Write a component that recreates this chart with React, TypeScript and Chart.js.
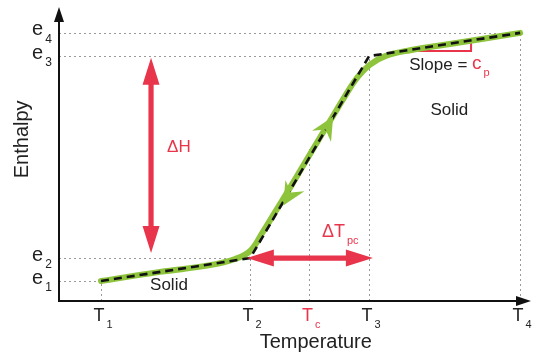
import React, { useEffect, useRef } from "react";
import { Chart, registerables } from "chart.js";

Chart.register(...registerables);

// Temperature ticks: T1, T2, Tc, T3, T4
const tempTicks = [0.89, 4.05, 5.3, 6.57, 9.77];
const tempMain = ["T", "T", "T", "T", "T"];
const tempSubs = ["1", "2", "c", "3", "4"];
// Enthalpy ticks: e1, e2, e3, e4
const enthTicks = [0.68, 1.46, 8.33, 9.12];
const enthMain = ["e", "e", "e", "e"];
const enthSubs = ["1", "2", "3", "4"];

// Smooth (real) enthalpy curve
const curveT = [0.89, 2.14, 3.2, 3.73, 4.05, 4.32, 4.58, 4.89, 5.32, 5.74, 6.06, 6.33, 6.59, 6.91, 7.44, 8.28, 9.77];
const curveH = [0.68, 0.99, 1.22, 1.43, 1.7, 2.35, 3.03, 3.84, 5.0, 6.12, 6.97, 7.62, 8.04, 8.33, 8.53, 8.74, 9.12];

// Piecewise-linear approximation (dashed)
const pieceT = [0.89, 4.05, 6.57, 9.77];
const pieceH = [0.68, 1.46, 8.33, 9.12];

// Arrowheads on the curve
const flowT = [5.68, 4.88];
const flowH = [5.92, 3.6];
const flowDir = [1, -1];

const RED = "#e8354b";
const GREEN = "#8dc43c";
const FONT = "'Liberation Sans', Arial, Helvetica, sans-serif";

function drawSubText(ctx: CanvasRenderingContext2D, main: string, sub: string, x: number, y: number, size: number, color: string, align: "center" | "left") {
  ctx.save();
  ctx.fillStyle = color;
  ctx.textBaseline = "middle";
  ctx.textAlign = "left";
  ctx.font = `${size}px ${FONT}`;
  const w1 = ctx.measureText(main).width;
  const subSize = Math.round(size * 0.6);
  ctx.font = `${subSize}px ${FONT}`;
  const w2 = ctx.measureText(sub).width;
  const total = w1 + 2 + w2;
  const x0 = align === "center" ? x - total / 2 : x;
  ctx.font = `${size}px ${FONT}`;
  ctx.fillText(main, x0, y);
  ctx.font = `${subSize}px ${FONT}`;
  ctx.fillText(sub, x0 + w1 + 2, y + size * 0.5);
  ctx.restore();
}

function doubleArrow(ctx: CanvasRenderingContext2D, x1: number, y1: number, x2: number, y2: number) {
  const dx = x2 - x1, dy = y2 - y1;
  const len = Math.hypot(dx, dy);
  const ux = dx / len, uy = dy / len;
  const nx = -uy, ny = ux;
  const hl = 27, hw = 8.5, sw = 2.6;
  ctx.save();
  ctx.fillStyle = RED;
  ctx.beginPath();
  ctx.moveTo(x1, y1);
  ctx.lineTo(x1 + ux * hl + nx * hw, y1 + uy * hl + ny * hw);
  ctx.lineTo(x1 + ux * hl + nx * sw, y1 + uy * hl + ny * sw);
  ctx.lineTo(x2 - ux * hl + nx * sw, y2 - uy * hl + ny * sw);
  ctx.lineTo(x2 - ux * hl + nx * hw, y2 - uy * hl + ny * hw);
  ctx.lineTo(x2, y2);
  ctx.lineTo(x2 - ux * hl - nx * hw, y2 - uy * hl - ny * hw);
  ctx.lineTo(x2 - ux * hl - nx * sw, y2 - uy * hl - ny * sw);
  ctx.lineTo(x1 + ux * hl - nx * sw, y1 + uy * hl - ny * sw);
  ctx.lineTo(x1 + ux * hl - nx * hw, y1 + uy * hl - ny * hw);
  ctx.closePath();
  ctx.fill();
  ctx.restore();
}

const decorPlugin = {
  id: "decor",
  beforeDatasetsDraw(chart: any) {
    const { ctx, chartArea, scales } = chart;
    const xs = scales.x, ys = scales.y;
    const px = (v: number) => xs.getPixelForValue(v);
    const py = (v: number) => ys.getPixelForValue(v);
    ctx.save();
    ctx.strokeStyle = "#9a9a9a";
    ctx.lineWidth = 1;
    ctx.setLineDash([2, 3]);
    const hEnds = [tempTicks[0], tempTicks[1], tempTicks[3], tempTicks[4]];
    enthTicks.forEach((e, i) => {
      ctx.beginPath();
      ctx.moveTo(chartArea.left, Math.round(py(e)) + 0.5);
      ctx.lineTo(px(hEnds[i]), Math.round(py(e)) + 0.5);
      ctx.stroke();
    });
    const vTops = [enthTicks[0], enthTicks[1], 5.2, enthTicks[2], enthTicks[3]];
    tempTicks.forEach((t, i) => {
      ctx.beginPath();
      ctx.moveTo(Math.round(px(t)) + 0.5, chartArea.bottom);
      ctx.lineTo(Math.round(px(t)) + 0.5, py(vTops[i]));
      ctx.stroke();
    });
    ctx.setLineDash([]);
    const sx1 = 7.61, sx2 = 8.73, sy = 8.5;
    const lineAt = (t: number) => pieceH[2] + (pieceH[3] - pieceH[2]) * (t - pieceT[2]) / (pieceT[3] - pieceT[2]);
    ctx.strokeStyle = RED;
    ctx.lineWidth = 2;
    ctx.beginPath();
    ctx.moveTo(px(sx1), py(sy));
    ctx.lineTo(px(sx2), py(sy));
    ctx.lineTo(px(sx2), py(lineAt(sx2)));
    ctx.stroke();
    ctx.restore();
  },
  afterDatasetsDraw(chart: any) {
    const { ctx, chartArea, scales } = chart;
    const xs = scales.x, ys = scales.y;
    const px = (v: number) => xs.getPixelForValue(v);
    const py = (v: number) => ys.getPixelForValue(v);
    ctx.save();
    const ax = px(pieceT[2]) - px(pieceT[1]);
    const ay = py(pieceH[2]) - py(pieceH[1]);
    const al = Math.hypot(ax, ay);
    flowT.forEach((t, i) => {
      const ux = (ax / al) * flowDir[i], uy = (ay / al) * flowDir[i];
      const nx = -uy, ny = ux;
      const cx = px(t), cy = py(flowH[i]);
      ctx.fillStyle = GREEN;
      ctx.beginPath();
      ctx.moveTo(cx + ux * 12, cy + uy * 12);
      ctx.lineTo(cx - ux * 11 + nx * 11, cy - uy * 11 + ny * 11);
      ctx.lineTo(cx - ux * 3, cy - uy * 3);
      ctx.lineTo(cx - ux * 11 - nx * 11, cy - uy * 11 - ny * 11);
      ctx.closePath();
      ctx.fill();
    });
    ctx.strokeStyle = "#111";
    ctx.fillStyle = "#111";
    ctx.lineWidth = 2;
    ctx.beginPath();
    ctx.moveTo(chartArea.left, chartArea.bottom);
    ctx.lineTo(chartArea.left, chartArea.top + 10);
    ctx.moveTo(chartArea.left - 1, chartArea.bottom);
    ctx.lineTo(chartArea.right - 10, chartArea.bottom);
    ctx.stroke();
    ctx.beginPath();
    ctx.moveTo(chartArea.left, chartArea.top);
    ctx.lineTo(chartArea.left - 5, chartArea.top + 15);
    ctx.lineTo(chartArea.left + 5, chartArea.top + 15);
    ctx.closePath();
    ctx.fill();
    ctx.beginPath();
    ctx.moveTo(chartArea.right, chartArea.bottom);
    ctx.lineTo(chartArea.right - 15, chartArea.bottom - 5);
    ctx.lineTo(chartArea.right - 15, chartArea.bottom + 5);
    ctx.closePath();
    ctx.fill();
    doubleArrow(ctx, px(1.95), py(1.63), px(1.95), py(8.27));
    doubleArrow(ctx, px(3.98), py(enthTicks[1]), px(6.65), py(enthTicks[1]));
    tempTicks.forEach((t, i) => {
      drawSubText(ctx, tempMain[i], tempSubs[i], px(t) + 2, chartArea.bottom + 15, 18, tempSubs[i] === "c" ? RED : "#222", "center");
    });
    enthTicks.forEach((e, i) => {
      drawSubText(ctx, enthMain[i], enthSubs[i], chartArea.left - 17, py(e) - 3, 20, "#222", "center");
    });
    ctx.fillStyle = "#222";
    ctx.font = `20px ${FONT}`;
    ctx.textAlign = "center";
    ctx.textBaseline = "middle";
    ctx.fillText("Temperature", px(5.44), chartArea.bottom + 41);
    ctx.save();
    ctx.translate(chartArea.left - 37, py(5.5));
    ctx.rotate(-Math.PI / 2);
    ctx.fillText("Enthalpy", 0, 0);
    ctx.restore();
    ctx.font = `17px ${FONT}`;
    ctx.fillText("Solid", px(2.33), py(0.54));
    ctx.fillText("Solid", px(8.27), py(6.5));
    ctx.textAlign = "left";
    ctx.fillText("Slope = ", px(7.42), py(8.03));
    const sw = ctx.measureText("Slope = ").width;
    drawSubText(ctx, "c", "p", px(7.42) + sw, py(8.03) - 1, 19, RED, "left");
    ctx.fillStyle = RED;
    ctx.font = `17px ${FONT}`;
    ctx.textAlign = "center";
    ctx.fillText("ΔH", px(2.54), py(5.24));
    drawSubText(ctx, "ΔT", "pc", px(5.57), py(2.35), 18, RED, "left");
    ctx.restore();
  },
};

export default function App() {
  const ref = useRef<HTMLCanvasElement | null>(null);
  useEffect(() => {
    document.body.style.margin = "0";
    const canvas = ref.current;
    if (!canvas) return;
    const chart = new Chart(canvas, {
      type: "line",
      data: {
        datasets: [
          {
            data: pieceT.map((t, i) => ({ x: t, y: pieceH[i] })),
            borderColor: "#111",
            borderWidth: 2.6,
            borderDash: [8, 5],
            pointRadius: 0,
            tension: 0,
            fill: false,
            order: 1,
          },
          {
            data: curveT.map((t, i) => ({ x: t, y: curveH[i] })),
            borderColor: GREEN,
            borderWidth: 6,
            pointRadius: 0,
            tension: 0.4,
            borderCapStyle: "round",
            fill: false,
            order: 2,
          },
        ],
      },
      options: {
        animation: false,
        responsive: false,
        maintainAspectRatio: false,
        layout: { padding: { left: 59, top: 7, right: 2, bottom: 53 } },
        scales: {
          x: { type: "linear", min: 0, max: 10, display: false },
          y: { type: "linear", min: 0, max: 10, display: false },
        },
        plugins: { legend: { display: false }, tooltip: { enabled: false } },
      },
      plugins: [decorPlugin],
    } as any);
    return () => chart.destroy();
  }, []);
  return (
    <div style={{ width: 533, height: 354, background: "#fff" }}>
      <canvas ref={ref} width={533} height={354} style={{ display: "block" }} />
    </div>
  );
}
